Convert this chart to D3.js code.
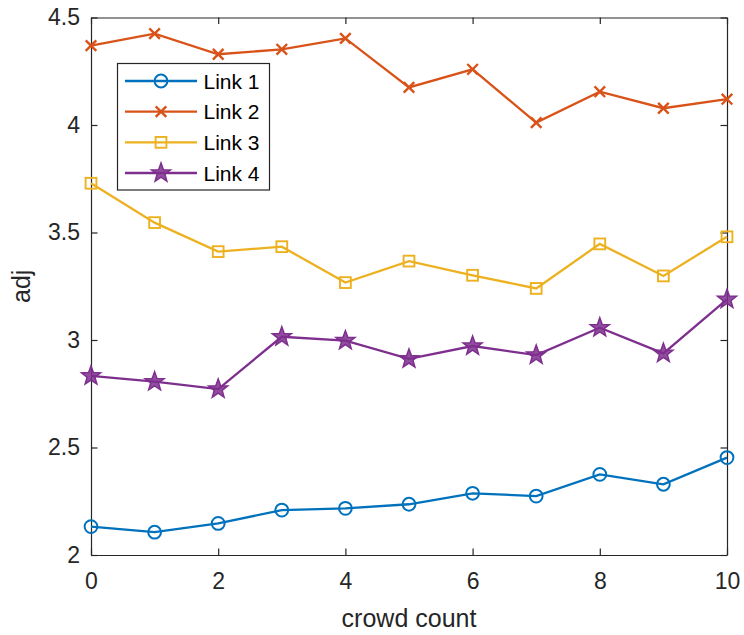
<!DOCTYPE html>
<html>
<head>
<meta charset="utf-8">
<script src="https://cdn.jsdelivr.net/npm/d3@7"></script>
<style>
  body { margin: 0; background: #fff; }
  svg { display: block; font-family: "Liberation Sans", Arial, sans-serif; }
</style>
</head>
<body>
<div id="chart"></div>
<script>
var width = 744, height = 635,
    margin = {top: 17.5, left: 91, right: 17, bottom: 80}; // plot box in pixels

var crowd = [0, 1, 2, 3, 4, 5, 6, 7, 8, 9, 10];
var link1 = [2.132, 2.106, 2.147, 2.209, 2.217, 2.236, 2.287, 2.274, 2.375, 2.329, 2.453];
var link2 = [4.369, 4.425, 4.329, 4.352, 4.403, 4.175, 4.259, 4.011, 4.155, 4.078, 4.120];
var link3 = [3.729, 3.546, 3.411, 3.434, 3.267, 3.367, 3.301, 3.240, 3.447, 3.298, 3.480];
var link4 = [2.833, 2.806, 2.772, 3.015, 2.997, 2.912, 2.972, 2.930, 3.057, 2.938, 3.189];
var seriesNames = ['Link 1', 'Link 2', 'Link 3', 'Link 4'];
var xTicks = [0, 2, 4, 6, 8, 10];
var yTicks = [2, 2.5, 3, 3.5, 4, 4.5];

var colors = ['#0072BD', '#D95319', '#EDB120', '#7E2F8E'],
    markers = ['circle', 'x', 'square', 'star'],
    axisColor = '#262626';

var series = [link1, link2, link3, link4].map(function(vals, i) {
  return {name: seriesNames[i], color: colors[i], marker: markers[i],
          values: vals.map(function(v, j) { return {x: crowd[j], y: v}; })};
});

var svg = d3.select('#chart').append('svg')
  .attr('width', width).attr('height', height);

var x = d3.scaleLinear().domain([0, 10]).range([margin.left, width - margin.right]);
var y = d3.scaleLinear().domain([2, 4.5]).range([height - margin.bottom, margin.top]);

var tickLen = 6.5;

// axes (box style, ticks inside on all four sides)
var xBottom = d3.axisBottom(x).tickValues(xTicks).tickSizeInner(-tickLen).tickSizeOuter(0).tickPadding(18);
var xTop = d3.axisTop(x).tickValues(xTicks).tickSizeInner(-tickLen).tickSizeOuter(0).tickFormat('');
var yLeft = d3.axisLeft(y).tickValues(yTicks).tickSizeInner(-tickLen).tickSizeOuter(0).tickPadding(11).tickFormat(d3.format('~g'));
var yRight = d3.axisRight(y).tickValues(yTicks).tickSizeInner(-tickLen).tickSizeOuter(0).tickFormat('');

function styleAxis(g) {
  g.selectAll('path, line').attr('stroke', axisColor).attr('stroke-width', 1.2);
  g.selectAll('text').attr('fill', axisColor).attr('font-size', 23)
    .attr('font-family', '"Liberation Sans", Arial, sans-serif');
}

svg.append('g').attr('transform', 'translate(0,' + y(2) + ')').call(xBottom).call(styleAxis);
svg.append('g').attr('transform', 'translate(0,' + y(4.5) + ')').call(xTop).call(styleAxis);
svg.append('g').attr('transform', 'translate(' + x(0) + ',0)').call(yLeft).call(styleAxis);
svg.append('g').attr('transform', 'translate(' + x(10) + ',0)').call(yRight).call(styleAxis);

// axis labels
svg.append('text')
  .attr('x', (x(0) + x(10)) / 2).attr('y', 627)
  .attr('text-anchor', 'middle').attr('font-size', 25).attr('fill', axisColor)
  .text('crowd count');

svg.append('text')
  .attr('transform', 'translate(30,' + (y(2) + y(4.5)) / 2 + ') rotate(-90)')
  .attr('text-anchor', 'middle').attr('font-size', 25).attr('fill', axisColor)
  .text('adj');

// marker shapes
function drawMarker(g, type, color) {
  if (type === 'circle') {
    g.append('circle').attr('r', 6.4)
      .attr('fill', 'none').attr('stroke', color).attr('stroke-width', 2);
  } else if (type === 'square') {
    g.append('rect').attr('x', -5.4).attr('y', -5.4).attr('width', 10.8).attr('height', 10.8)
      .attr('fill', 'none').attr('stroke', color).attr('stroke-width', 1.9);
  } else if (type === 'x') {
    g.append('path').attr('d', 'M-5.3,-5.3L5.3,5.3M-5.3,5.3L5.3,-5.3')
      .attr('fill', 'none').attr('stroke', color).attr('stroke-width', 2.4);
  } else if (type === 'star') {
    var pts = [];
    for (var k = 0; k < 10; k++) {
      var r = k % 2 === 0 ? 10 : 4.1,
          a = -Math.PI / 2 + k * Math.PI / 5;
      pts.push([r * Math.cos(a), r * Math.sin(a)]);
    }
    g.append('path').attr('d', 'M' + pts.join('L') + 'Z')
      .attr('fill', color).attr('fill-opacity', 0.85)
      .attr('stroke', color).attr('stroke-width', 1.5).attr('stroke-linejoin', 'miter');
  }
}

var line = d3.line().x(function(d) { return x(d.x); }).y(function(d) { return y(d.y); });

var plot = svg.append('g');

series.forEach(function(s) {
  var g = plot.append('g');
  g.append('path').datum(s.values)
    .attr('d', line).attr('fill', 'none')
    .attr('stroke', s.color).attr('stroke-width', 2.3);
  g.selectAll('.marker').data(s.values).enter().append('g')
    .attr('class', 'marker')
    .attr('transform', function(d) { return 'translate(' + x(d.x) + ',' + y(d.y) + ')'; })
    .each(function() { drawMarker(d3.select(this), s.marker, s.color); });
});

// legend
var legend = svg.append('g').attr('transform', 'translate(117.5,63.5)');
legend.append('rect')
  .attr('width', 152).attr('height', 126.5)
  .attr('fill', '#fff').attr('stroke', axisColor).attr('stroke-width', 1.2);

var rowY = d3.scaleLinear().domain([0, 3]).range([17.5, 109.5]);

series.forEach(function(s, i) {
  var row = legend.append('g').attr('transform', 'translate(0,' + rowY(i) + ')');
  row.append('line').attr('x1', 7.5).attr('x2', 79.5)
    .attr('stroke', s.color).attr('stroke-width', 2.3);
  var m = row.append('g').attr('transform', 'translate(43.5,0)');
  drawMarker(m, s.marker, s.color);
  row.append('text').attr('x', 86).attr('y', 0).attr('dy', '0.36em')
    .attr('font-size', 21).attr('fill', '#000')
    .text(s.name);
});
</script>
</body>
</html>
